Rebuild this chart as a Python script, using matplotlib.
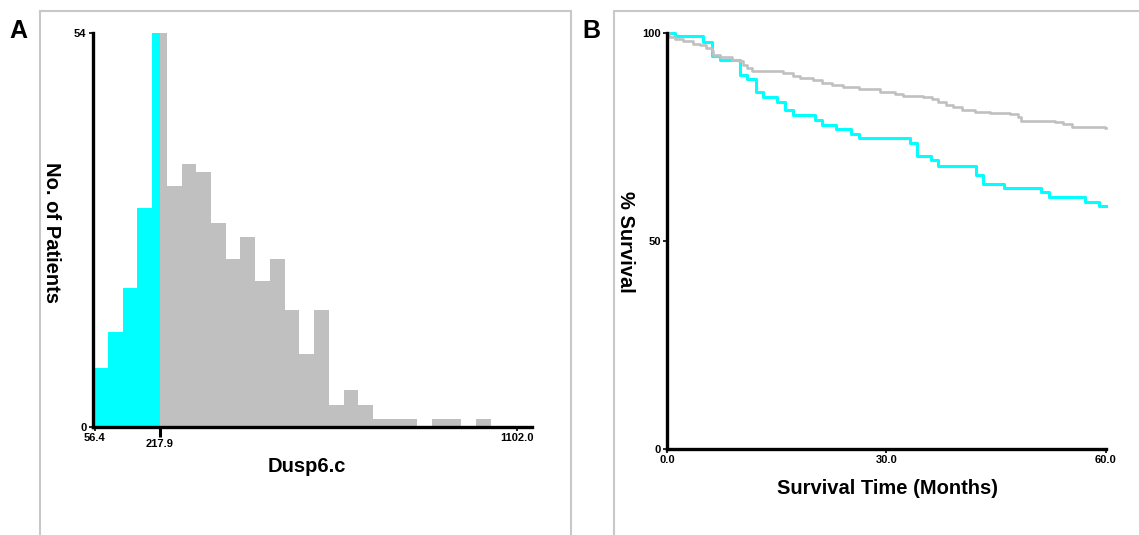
import numpy as np
from matplotlib import pyplot as plt
from matplotlib.patches import Rectangle

plt.rcParams['font.family'] = ['Liberation Sans', 'DejaVu Sans']
plt.rcParams['font.weight'] = 'bold'

W, H = 1139, 535

# panel A: Dusp6.c histogram
bin_start = 52.5
bin_width = 36.5
cutoff = 217.9
counts = [8, 13, 19, 30, 54, 33, 36, 35, 28, 23, 26, 20, 23, 16,
          10, 16, 3, 5, 3, 1, 1, 1, 0, 1, 1, 0, 1]
hist_ticks = [56.4, 1102.0]
hist_tick_labels = ['56.4', '1102.0']

# panel B: Kaplan-Meier curves (months, % survival after step)
low_t = [0, 1.1, 5.0, 6.1, 7.2, 10.0, 11.0, 12.2, 13.2, 15.0, 16.1, 17.2,
         20.2, 21.2, 23.1, 25.1, 26.2, 33.2, 34.2, 36.1, 37.1, 42.2, 43.2,
         46.1, 51.1, 52.2, 57.2, 59.1, 60.0]
low_s = [100, 99.4, 97.9, 94.6, 93.5, 90.0, 89.1, 85.8, 84.7, 83.5, 81.6, 80.3,
         79.1, 77.9, 76.9, 75.7, 74.7, 73.7, 70.5, 69.5, 68.1, 65.9, 63.7,
         62.8, 61.7, 60.5, 59.5, 58.4, 58.4]
high_t = [0, 0.3, 1.1, 2.2, 3.6, 4.5, 5.4, 6.1, 6.3, 7.3, 8.9, 9.8, 10.4,
          11.0, 11.6, 15.9, 17.3, 18.2, 20.0, 21.2, 22.5, 24.1, 26.2, 29.1,
          31.2, 32.3, 35.0, 36.2, 37.1, 38.2, 39.1, 40.3, 42.1, 44.2, 46.9,
          48.0, 48.4, 53.0, 54.2, 55.3, 59.9, 60.0]
high_s = [100, 99.2, 98.6, 98.1, 97.5, 97.1, 96.5, 95.7, 94.9, 94.2, 93.7,
          93.3, 92.5, 91.7, 91.0, 90.5, 89.7, 89.3, 88.8, 88.0, 87.6, 87.0,
          86.5, 85.8, 85.4, 85.0, 84.8, 84.2, 83.5, 82.8, 82.2, 81.5, 81.1,
          80.9, 80.7, 79.8, 78.9, 78.6, 78.1, 77.5, 77.1, 77.1]

CYAN = '#00ffff'
GREY = '#c0c0c0'


def px_axes(x0, y0, x1, y1):
    return fig.add_axes([x0 / W, 1 - y1 / H, (x1 - x0) / W, (y1 - y0) / H])


def px_text(x, y, s, **kw):
    fig.text(x / W, 1 - y / H, s, ha='center', va='center', **kw)


def style(ax):
    for side in ['top', 'right']:
        ax.spines[side].set_visible(False)
    for side in ['left', 'bottom']:
        ax.spines[side].set_linewidth(2.4)
    ax.tick_params(which='major', length=3, width=1.2, labelsize=8, pad=1.5)


fig = plt.figure(figsize=(W / 100, H / 100), dpi=100)

# panel frames
fig.patches.append(Rectangle((40 / W, -0.05), (571.4 - 40) / W, 1.05 - 11.3 / H,
                             transform=fig.transFigure, fill=False,
                             edgecolor='#c8c8c8', lw=1.5))
fig.patches.append(Rectangle((614.3 / W, -0.05), 1.0, 1.05 - 11.3 / H,
                             transform=fig.transFigure, fill=False,
                             edgecolor='#c8c8c8', lw=1.5))

# ---- A ----
ax = px_axes(92.7, 33.3, 531.8, 426.7)
for i, c in enumerate(counts):
    left = bin_start + i * bin_width
    right = left + bin_width
    if c == 0:
        continue
    if right <= cutoff:
        ax.bar(left, c, bin_width, align='edge', color=CYAN, lw=0)
    elif left >= cutoff:
        ax.bar(left, c, bin_width, align='edge', color=GREY, lw=0)
    else:
        ax.bar(left, c, cutoff - left, align='edge', color=CYAN, lw=0)
        ax.bar(cutoff, c, right - cutoff, align='edge', color=GREY, lw=0)
ax.set_xlim(51.2, 1139.6)
ax.set_ylim(0, 54)
style(ax)
ax.set_xticks(hist_ticks)
ax.set_xticklabels(hist_tick_labels)
ax.set_xticks([cutoff], minor=True)
ax.set_xticklabels(['217.9'], minor=True)
ax.tick_params(axis='x', which='minor', length=7.5, width=2.2, labelsize=8, pad=1.5)
ax.set_yticks([0, 54])

px_text(51.8, 232, 'No. of Patients', fontsize=14.5, rotation=270)
px_text(307, 466, 'Dusp6.c', fontsize=14.5)
px_text(18.5, 31.5, 'A', fontsize=18)

# ---- B ----
bx = px_axes(666.9, 33.4, 1105.9, 448.6)
bx.step(low_t, low_s, where='post', color=CYAN, lw=2.2, clip_on=False)
bx.step(high_t, high_s, where='post', color=GREY, lw=1.9, clip_on=False)
bx.set_xlim(0, 60)
bx.set_ylim(0, 100)
style(bx)
bx.set_xticks([0, 30, 60])
bx.set_xticklabels(['0.0', '30.0', '60.0'])
bx.set_yticks([0, 50, 100])

px_text(626, 242, '% Survival', fontsize=14.5, rotation=270)
px_text(887, 488, 'Survival Time (Months)', fontsize=14.5)
px_text(591.8, 31, 'B', fontsize=18)

fig.savefig('out.png', dpi=100)
